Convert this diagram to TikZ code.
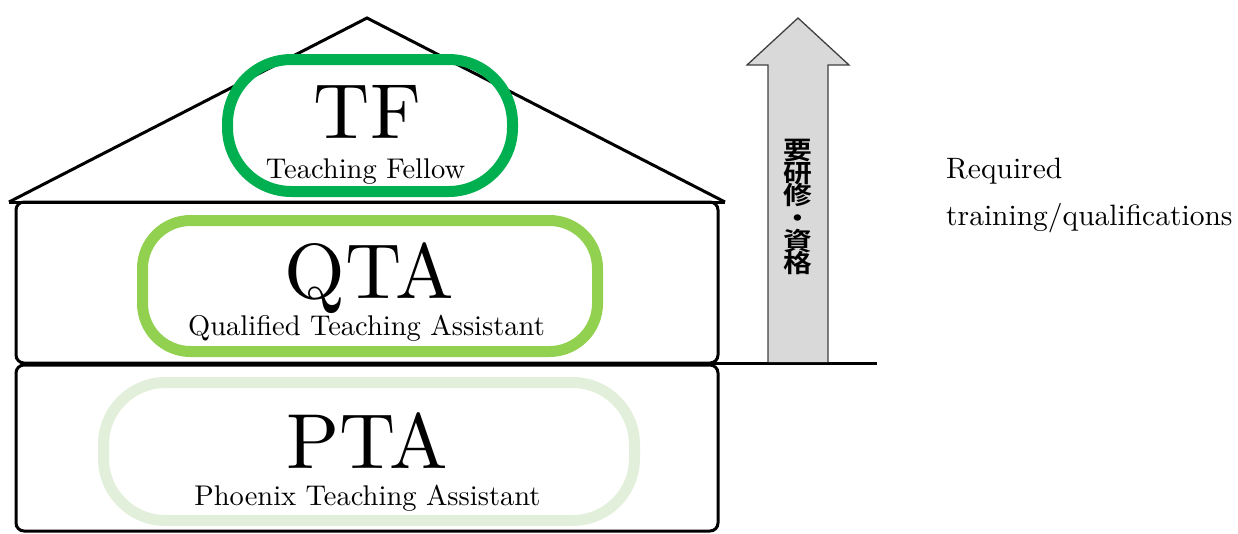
\documentclass[tikz,border=0pt]{standalone}
\usepackage{fontspec}
\setmainfont{lmroman10-regular.otf}
\newfontfamily\cjk{Noto Sans CJK JP}[BoldFont={Noto Sans CJK JP Bold}]
\definecolor{tfgreen}{HTML}{00B050}
\definecolor{qtagreen}{HTML}{92D050}
\definecolor{ptagreen}{HTML}{E2EFDA}
\definecolor{arrowfill}{HTML}{D9D9D9}
\definecolor{arrowline}{HTML}{404040}
\newcommand{\vstackchars}[1]{\scalebox{1.15}[1]{\vbox{\baselineskip=22.7pt\lineskiplimit=-30pt\lineskip=0pt #1}}}
\tikzset{
  house/.style={draw=black, line width=3pt, line cap=butt},
  floorbox/.style={draw=black, line width=3pt, rounded corners=8pt},
  badge/.style={line width=11pt},
  bigtxt/.style={inner sep=0pt, anchor=base, font=\fontsize{78}{80}\selectfont},
  subtxt/.style={inner sep=0pt, anchor=base, font=\fontsize{28.5}{30}\selectfont},
  sidetxt/.style={inner sep=0pt, anchor=base west, font=\fontsize{29.5}{30}\selectfont},
}
\begin{document}
\begin{tikzpicture}[x=1pt,y=-1pt]
\useasboundingbox (0,0) rectangle (1238,533);
% roof
\coordinate (roofL) at (9,202);
\coordinate (roofT) at (367,18);
\coordinate (roofR) at (725,202);
\draw[house, line join=miter] (roofL) -- (roofT) -- (roofR);
\draw[house] (roofL) -- (roofR);
% floors
\draw[floorbox] (16,202) rectangle (718,363);
\draw[floorbox] (16,365) rectangle (718,531);
% ground line
\coordinate (gL) at (705,363);
\coordinate (gR) at (877,363);
\draw[line width=3pt] (gL) -- (gR);
% arrow
\draw[fill=arrowfill, draw=arrowline, line width=1.3pt, line join=miter]
  (768,362) -- (768,65) -- (747,65) -- (798,18) -- (849,65) -- (828,65) -- (828,362);
\node[inner sep=0pt, font=\cjk\bfseries\fontsize{25}{22.7}\selectfont] (req) at (798,207)
  {\vstackchars{\hbox{要}\hbox{研}\hbox{修}\hbox{・}\hbox{資}\hbox{格}}};
% badges
\draw[badge, draw=tfgreen, rounded corners=64pt] (227.5,59.5) rectangle (512.5,191.5);
\draw[badge, draw=qtagreen, rounded corners=48pt] (142.5,220.5) rectangle (597.5,351.5);
\draw[badge, draw=ptagreen, rounded corners=62pt] (103.5,382.5) rectangle (634.5,520.5);
% texts
\node[bigtxt] (tf) at (367.5,138) {TF};
\node[subtxt] (tfs) at (365.5,178) {Teaching Fellow};
\node[bigtxt] (qta) at (369.5,298) {QTA};
\node[subtxt] (qtas) at (366.5,335) {Qualified Teaching Assistant};
\node[bigtxt] (pta) at (367,468) {PTA};
\node[subtxt] (ptas) at (367.5,505) {Phoenix Teaching Assistant};
\node[sidetxt] (r1) at (946,178) {Required};
\node[sidetxt] (r2) at (946,225) {training/qualifications};
\end{tikzpicture}
\end{document}
